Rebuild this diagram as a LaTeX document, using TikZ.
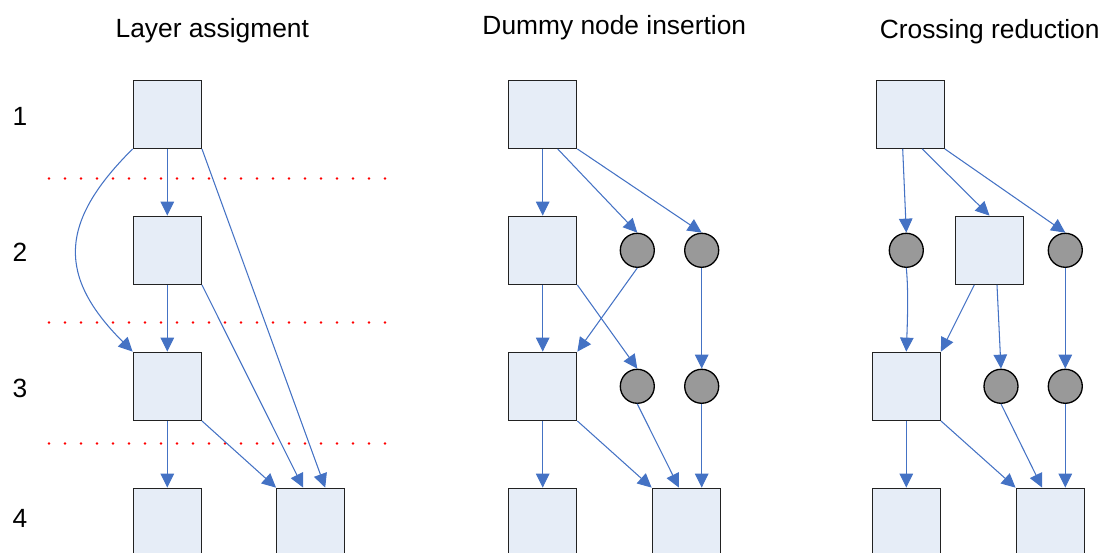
\documentclass[tikz,border=0pt]{standalone}
\usepackage{fontspec}
\setmainfont{Liberation Sans}
\usetikzlibrary{arrows.meta,calc}

\definecolor{edgeblue}{HTML}{4472C4}
\definecolor{boxfill}{HTML}{E6EDF7}
\definecolor{boxline}{HTML}{222222}
\definecolor{dummyfill}{HTML}{999999}

\tikzset{
  realnode/.style={rectangle, draw=boxline, line width=0.75pt, fill=boxfill,
    minimum width=1.36cm, minimum height=1.36cm, inner sep=0pt},
  dummynode/.style={circle, draw=black, line width=0.75pt, fill=dummyfill,
    minimum size=0.68cm, inner sep=0pt},
  edge/.style={draw=edgeblue, line width=0.6pt,
    -{Triangle[length=0.28cm, width=0.27cm, fill=edgeblue]}},
  layerline/.style={draw=red, line width=1.6pt, line cap=round,
    dash pattern=on 0pt off 0.32cm},
  heading/.style={anchor=base, inner sep=0pt, font=\fontsize{15pt}{18pt}\selectfont},
  layerlabel/.style={anchor=base, inner sep=0pt, font=\fontsize{15pt}{18pt}\selectfont},
}

\begin{document}
\begin{tikzpicture}[x=0.02cm, y=-0.02cm]
\useasboundingbox (0,0) rectangle (1103,553);

% headings
\node[heading] (T1) at (212.3,37.7) {Layer assigment};
\node[heading] (T2) at (614.3,34.5) {Dummy node insertion};
\node[heading] (T3) at (989.7,38.3) {Crossing reduction};

% layer numbers
\node[layerlabel] (L1) at (20,126) {1};
\node[layerlabel] (L2) at (20,261.5) {2};
\node[layerlabel] (L3) at (20,397.5) {3};
\node[layerlabel] (L4) at (20,528) {4};

% layer separators
\coordinate (S1a) at (49,178.5);  \coordinate (S1b) at (387,178.5);
\coordinate (S2a) at (49,322.5);  \coordinate (S2b) at (387,322.5);
\coordinate (S3a) at (49,443.5);  \coordinate (S3b) at (387,443.5);
\draw[layerline] (S1a) -- (S1b);
\draw[layerline] (S2a) -- (S2b);
\draw[layerline] (S3a) -- (S3b);

% ---------- layer assignment ----------
\node[realnode] (A1) at (167.3,114.3) {};
\node[realnode] (A2) at (167.3,250.3) {};
\node[realnode] (A3) at (167.3,386.3) {};
\node[realnode] (A4) at (167.3,522.3) {};
\node[realnode] (A5) at (310.7,522.3) {};

\draw[edge] (A1.south) -- (A2.north);
\draw[edge] (A2.south) -- (A3.north);
\draw[edge] (A3.south) -- (A4.north);
\draw[edge] (A1.south west) .. controls (58,223) and (58,277) .. (A3.north west);
\draw[edge] (A1.south east) -- ($(A5.north)+(14.5,0)$);
\draw[edge] (A2.south east) -- ($(A5.north)+(-7.5,0)$);
\draw[edge] (A3.south east) -- (A5.north west);

% ---------- dummy node insertion ----------
\node[realnode] (B1) at (542.7,114.3) {};
\node[realnode] (B2) at (542.7,250.3) {};
\node[dummynode] (Ba) at (637.3,250.3) {};
\node[dummynode] (Bb) at (701.7,250.3) {};
\node[realnode] (B3) at (542.7,386.3) {};
\node[dummynode] (Bc) at (637.3,386.3) {};
\node[dummynode] (Bd) at (701.7,386.3) {};
\node[realnode] (B4) at (542.7,522.3) {};
\node[realnode] (B5) at (686.3,522.3) {};

\draw[edge] (B1.south) -- (B2.north);
\draw[edge] ($(B1.south)+(15,0)$) -- (Ba.north);
\draw[edge] (B1.south east) -- (Bb.north);
\draw[edge] (B2.south) -- (B3.north);
\draw[edge] (B2.south east) -- (Bc.north);
\draw[edge] (Ba.south) -- (B3.north east);
\draw[edge] (Bb.south) -- (Bd.north);
\draw[edge] (B3.south) -- (B4.north);
\draw[edge] (B3.south east) -- (B5.north west);
\draw[edge] (Bc.south) -- ($(B5.north)+(-7.3,0)$);
\draw[edge] (Bd.south) -- ($(B5.north)+(15.4,0)$);

% ---------- crossing reduction ----------
\node[realnode] (C1) at (910.2,114.3) {};
\node[dummynode] (Ce) at (906.3,250.3) {};
\node[realnode] (C2) at (989.5,250.3) {};
\node[dummynode] (Cf) at (1065.3,250.3) {};
\node[realnode] (C3) at (906.3,386.3) {};
\node[dummynode] (Cg) at (1001,386.3) {};
\node[dummynode] (Ch) at (1065.3,386.3) {};
\node[realnode] (C4) at (906.3,522.3) {};
\node[realnode] (C5) at (1050.2,522.3) {};

\draw[edge] ($(C1.south)+(-7.5,0)$) -- (Ce.north);
\draw[edge] ($(C1.south)+(12,0)$) -- (C2.north);
\draw[edge] (C1.south east) -- (Cf.north);
\draw[edge] (Ce.south) .. controls (908.5,290) and (907.5,320) .. (C3.north);
\draw[edge] ($(C2.south)+(-15.2,0)$) -- (C3.north east);
\draw[edge] ($(C2.south)+(7.5,0)$) -- (Cg.north);
\draw[edge] (Cf.south) -- (Ch.north);
\draw[edge] (C3.south) -- (C4.north);
\draw[edge] (C3.south east) -- (C5.north west);
\draw[edge] (Cg.south) -- ($(C5.north)+(-8,0)$);
\draw[edge] (Ch.south) -- ($(C5.north)+(15.1,0)$);
\end{tikzpicture}
\end{document}
